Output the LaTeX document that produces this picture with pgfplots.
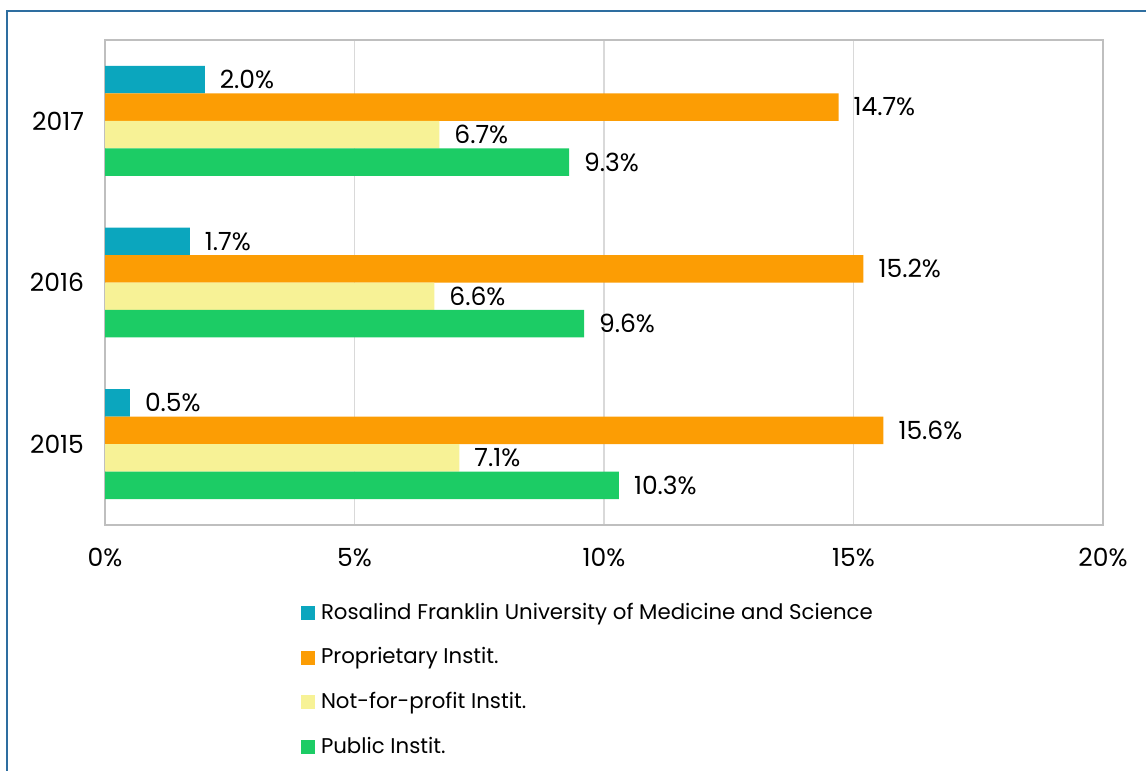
\documentclass[border=0pt]{standalone}
\usepackage{pgfplots}
\pgfplotsset{compat=1.18}
\usepackage{fontspec}
\setmainfont{Poppins}

\definecolor{cteal}{RGB}{11,166,190}
\definecolor{corange}{RGB}{252,157,4}
\definecolor{cyellow}{RGB}{247,242,150}
\definecolor{cgreen}{RGB}{28,204,101}
\definecolor{cgrid}{RGB}{217,217,217}
\definecolor{cframe}{RGB}{191,191,191}
\definecolor{cborder}{RGB}{46,110,160}

\begin{document}
\begin{tikzpicture}
\useasboundingbox (0pt,0pt) rectangle (573pt,385.5pt);
\draw[cborder, line width=1pt] (3.5pt,-2pt) -- (3.5pt,380pt) -- (576pt,380pt);
\begin{axis}[
  at={(52.5pt,123pt)}, anchor=south west,
  scale only axis, width=499pt, height=242.5pt,
  xbar, bar width=0.17,
  xmin=0, xmax=20, ymin=-0.5, ymax=2.5,
  xtick={0,5,10,15,20},
  xticklabels={0\%,5\%,10\%,15\%,20\%},
  ytick={0,1,2}, yticklabels={2015,2016,2017},
  major tick length=0pt,
  axis line style={cframe, line width=0.8pt},
  xmajorgrids, grid style={cgrid, line width=0.8pt},
  tick label style={font=\fontsize{12.5}{15}\selectfont},
  xticklabel style={yshift=-8pt},
  yticklabel style={xshift=-7pt},
  point meta=x,
  nodes near coords={\pgfmathprintnumber[fixed,fixed zerofill,precision=1,assume math mode=true]{\pgfplotspointmeta}\%},
  every node near coord/.append style={font=\fontsize{12.5}{15}\selectfont, anchor=west, xshift=4pt, black},
  legend image code/.code={\fill[#1] (0pt,-3.5pt) rectangle (7pt,3.5pt);},
  legend cell align=left,
  legend style={at={(rel axis cs:0,0)}, anchor=north west, xshift=98pt, yshift=-39pt,
    draw=none, fill=none, inner sep=0pt, outer sep=0pt, row sep=12.35pt,
    font=\fontsize{10.65}{13}\selectfont,
    nodes={inner ysep=0pt, inner xsep=3pt, text height=8pt, text depth=2pt}},
]
\addplot[draw=none, fill=cteal, bar shift=0.255] coordinates {(0.5,0) (1.7,1) (2.0,2)};
\addplot[draw=none, fill=corange, bar shift=0.085] coordinates {(15.6,0) (15.2,1) (14.7,2)};
\addplot[draw=none, fill=cyellow, bar shift=-0.085] coordinates {(7.1,0) (6.6,1) (6.7,2)};
\addplot[draw=none, fill=cgreen, bar shift=-0.255] coordinates {(10.3,0) (9.6,1) (9.3,2)};
\legend{Rosalind Franklin University of Medicine and Science, Proprietary Instit., Not-for-profit Instit., Public Instit.}
\end{axis}
\end{tikzpicture}
\end{document}
